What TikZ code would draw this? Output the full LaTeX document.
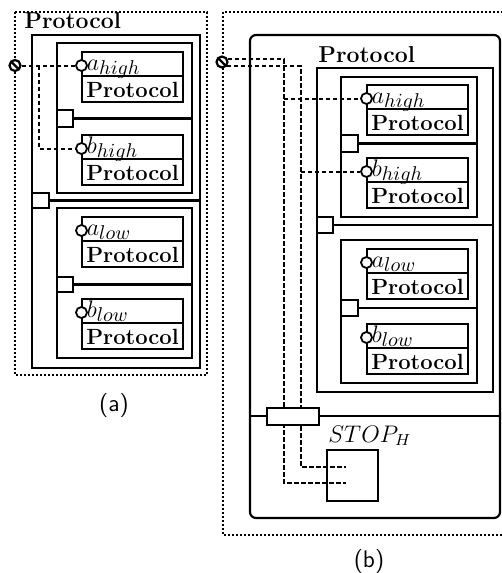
\documentclass[tikz,border=0pt]{standalone}
\begin{document}
\begin{tikzpicture}[x=0.5pt,y=-0.5pt,
  box/.style={draw,line width=1.1pt},
  compline/.style={draw,line width=1.1pt},
  dotbox/.style={draw,line width=1.2pt,dash pattern=on 1pt off 1pt},
  conn/.style={draw,line width=1pt,dash pattern=on 2.2pt off 1.3pt},
  port/.style={circle,draw,line width=0.9pt,inner sep=0pt,minimum size=5.5pt,fill=white},
  bport/.style={circle,draw,line width=1.1pt,inner sep=0pt,minimum size=5.5pt,fill=white,
     path picture={\draw[line width=1.1pt] (path picture bounding box.north west) -- (path picture bounding box.south east);}},
  sq/.style={draw,line width=1.1pt,inner sep=0pt,outer sep=0pt,anchor=north west},
  ptitle/.style={font=\bfseries\fontsize{11.5}{13}\selectfont},
  cprot/.style={font=\bfseries\fontsize{11}{13}\selectfont},
  captxt/.style={font=\sffamily\fontsize{12}{14}\selectfont}]
\clip (0,0) rectangle (502,573);
\fill[white] (0,0) rectangle (502,573);

\newcommand\compbox[5]{%
  \draw[compline] (#2,#3) rectangle (#2+101,#3+50);
  \draw[compline] (#2,#3+24) -- (#2+101,#3+24);
  \node[cprot] (#1p) at (#2+50.5,#3+37.5) {Protocol};
  \node[port] (#1) at (#2-0.5,#3+13.5) {};
  \node[anchor=base west,inner sep=0pt] (#1l) at (#2+4.5,#3+18)
     {\fontsize{11.5}{13}\selectfont$#4$\raisebox{-2.2pt}{\fontsize{10}{11}\selectfont$#5$}};
}

% ---------------- (a) ----------------
\draw[dotbox] (15,12) rectangle (207,375);
\node[ptitle,anchor=base west,inner sep=0pt] (ta) at (24,28) {Protocol};
\draw[box] (32,35) rectangle (200,368);
\draw[box] (57,43) rectangle (192,193);
\draw[box] (57,208) rectangle (192,358);
\coordinate (ra1) at (200,0);
\coordinate (ra2) at (192,0);
\node[sq,minimum width=8.5pt,minimum height=7.5pt] (sqa1) at (32,193) {};
\draw[box] (sqa1.east) -- (sqa1.east -| ra1);
\node[sq,minimum width=8pt,minimum height=8.5pt] (sqa2) at (57,110) {};
\draw[box] (sqa2.east) -- (sqa2.east -| ra2);
\node[sq,minimum width=8pt,minimum height=7.5pt] (sqa3) at (57,277) {};
\draw[box] (sqa3.east) -- (sqa3.east -| ra2);
\compbox{ahA}{82}{52}{a}{high}
\compbox{bhA}{82}{135}{b}{high}
\compbox{alA}{82}{217}{a}{low}
\compbox{blA}{82}{299}{b}{low}
\node[bport] (pa) at (15,65.5) {};
\coordinate (ja) at (39,65.5);
\draw[conn] (pa) -- (ahA);
\draw[conn] (ja) |- (bhA);
\node[captxt] (capa) at (114,406) {(a)};

% ---------------- (b) ----------------
\draw[dotbox] (223,12) rectangle (520,535);
\draw[box,rounded corners=3pt] (250,35) rectangle (500,518);
\node[ptitle,anchor=base west,inner sep=0pt] (tb) at (318,62) {Protocol};
\draw[box] (317,68) rectangle (493,392);
\draw[box] (341,77) rectangle (477,217);
\draw[box] (341,240) rectangle (477,383);
\coordinate (rb1) at (493,0);
\coordinate (rb2) at (477,0);
\node[sq,minimum width=8pt,minimum height=8pt] (sqb1) at (317,217) {};
\draw[box] (sqb1.east) -- (sqb1.east -| rb1);
\node[sq,minimum width=8.5pt,minimum height=8.5pt] (sqb2) at (341,135) {};
\draw[box] (sqb2.east) -- (sqb2.east -| rb2);
\node[sq,minimum width=8.5pt,minimum height=8pt] (sqb3) at (341,300) {};
\draw[box] (sqb3.east) -- (sqb3.east -| rb2);
\compbox{ahB}{367}{85}{a}{high}
\compbox{bhB}{367}{158}{b}{high}
\compbox{alB}{367}{249}{a}{low}
\compbox{blB}{367}{324}{b}{low}
\draw[box] (250,416) -- (500,416);
\node[bport] (pb) at (222,62) {};
\coordinate (k1) at (284,483);
\coordinate (k2) at (301,467);
\coordinate (s1) at (346,483);
\coordinate (s2) at (346,467);
\coordinate (j1) at (284,98.5);
\coordinate (j2) at (301,171.5);
\draw[conn] (pb.25) -| (k1) -- (s1);
\draw[conn] (pb.-40) -| (k2) -- (s2);
\draw[conn] (j1) -- (ahB);
\draw[conn] (j2) -- (bhB);
\node[sq,fill=white,minimum width=26pt,minimum height=8.5pt] (wp) at (267,408) {};
\node[anchor=base west,inner sep=0pt,font=\fontsize{12}{14}\selectfont] (stopl) at (328,442) {$STOP_H$};
\node[sq,minimum width=25.5pt,minimum height=25.5pt] (stop) at (327,450) {};
\node[captxt] (capb) at (369,562) {(b)};
\end{tikzpicture}
\end{document}
